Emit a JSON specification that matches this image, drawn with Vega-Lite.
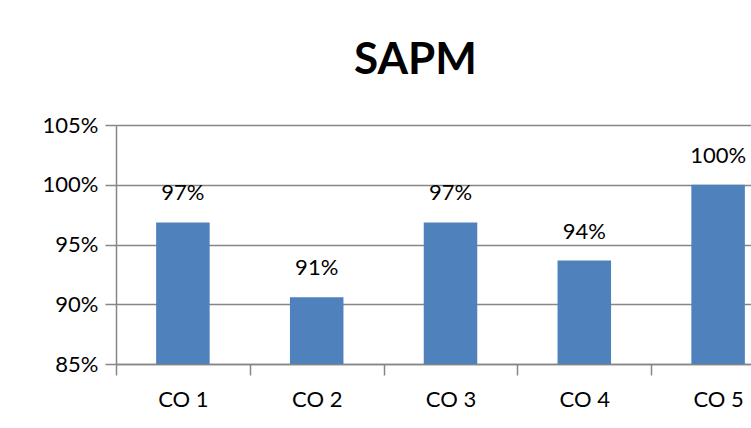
{
  "$schema": "https://vega.github.io/schema/vega-lite/v6.json",
  "width": 669,
  "height": 239,
  "autosize": {"type": "none"},
  "padding": {"left": 116, "top": 125, "right": 0, "bottom": 64},
  "background": "white",
  "title": {
    "text": "SAPM",
    "font": "Lato",
    "fontSize": 44,
    "fontWeight": "bold",
    "color": "black",
    "anchor": "middle",
    "frame": "group",
    "dx": -35,
    "offset": 31
  },
  "config": {
    "view": {"stroke": null},
    "font": "Lato"
  },
  "data": {
    "values": [
      {"course": "CO 1", "value": 0.9685},
      {"course": "CO 2", "value": 0.9058},
      {"course": "CO 3", "value": 0.9685},
      {"course": "CO 4", "value": 0.9366},
      {"course": "CO 5", "value": 1.0}
    ]
  },
  "encoding": {
    "x": {
      "field": "course",
      "type": "nominal",
      "sort": null,
      "scale": {"paddingInner": 0, "paddingOuter": 0},
      "axis": {
        "title": null,
        "labelAngle": 0,
        "labelFont": "Lato",
        "labelFontSize": 22,
        "labelColor": "black",
        "labelPadding": 14,
        "tickBand": "extent",
        "tickSize": 11,
        "tickColor": "#868686",
        "tickWidth": 1.5,
        "domainColor": "#868686",
        "domainWidth": 1.5,
        "grid": false
      }
    },
    "y": {
      "field": "value",
      "type": "quantitative",
      "scale": {"domain": [0.85, 1.05], "zero": false, "nice": false},
      "axis": {
        "title": null,
        "values": [0.85, 0.9, 0.95, 1.0, 1.05],
        "format": ".0%",
        "labelFont": "Lato",
        "labelFontSize": 22,
        "labelColor": "black",
        "labelPadding": 7,
        "tickSize": 11,
        "tickColor": "#868686",
        "tickWidth": 1.5,
        "domainColor": "#868686",
        "domainWidth": 1.5,
        "grid": true,
        "gridColor": "#868686",
        "gridWidth": 1.5
      }
    }
  },
  "layer": [
    {
      "mark": {"type": "bar", "color": "#4F81BD", "width": {"band": 0.4}, "clip": true}
    },
    {
      "mark": {
        "type": "text",
        "font": "Lato",
        "fontSize": 22,
        "color": "black",
        "baseline": "alphabetic",
        "dy": -22
      },
      "encoding": {
        "text": {"field": "value", "type": "quantitative", "format": ".0%"}
      }
    }
  ]
}
